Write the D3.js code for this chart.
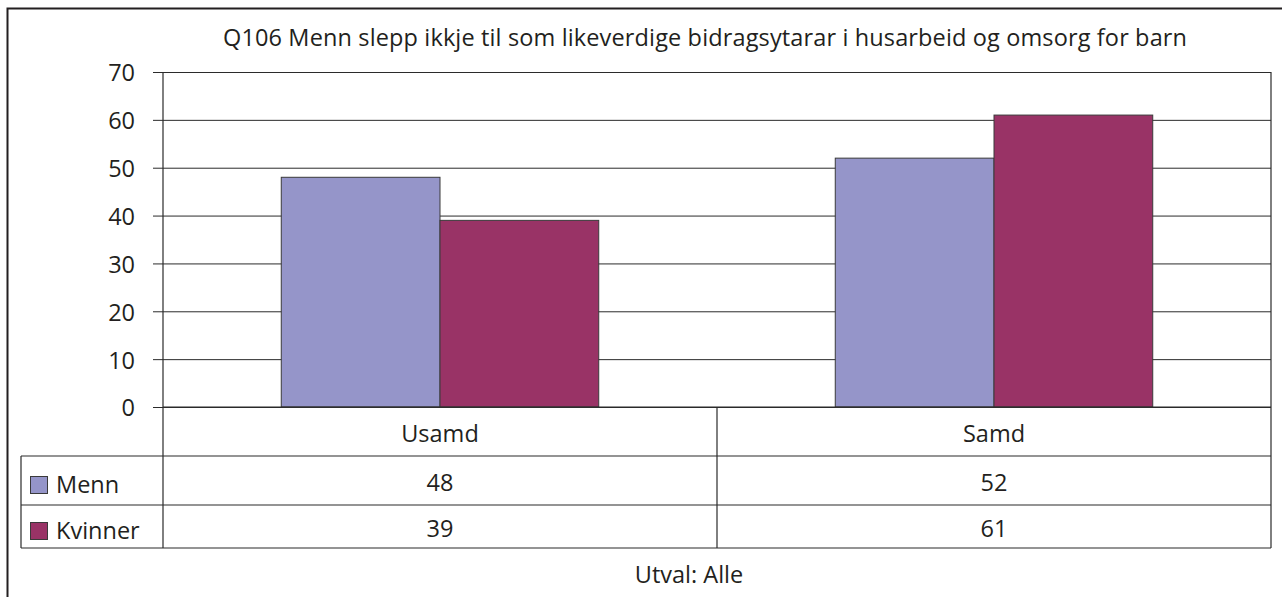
<!DOCTYPE html>
<html>
<head>
<meta charset="utf-8">
<script src="https://cdn.jsdelivr.net/npm/d3@7"></script>
<style>
  body { margin: 0; background: #fff; }
  text { font-family: "Open Sans", sans-serif; fill: #231f20; }
</style>
</head>
<body>
<div id="chart-area"></div>
<script>
// data
const categories = ["Usamd", "Samd"]
const series = ["Menn", "Kvinner"]
const menn = [48, 52]
const kvinner = [39, 61]
const yTicks = [0, 10, 20, 30, 40, 50, 60, 70]
const colors = ["#9595c9", "#993366"]

const WIDTH = 1282
const HEIGHT = 597
const PLOT = { LEFT: 163, RIGHT: 1271, TOP: 72, BOTTOM: 407 }
const TABLE_LEFT = 21
const ROW_H = [49, 49, 43]
const FONT = "23.5px"

const values = [menn, kvinner]

const svg = d3.select("#chart-area").append("svg")
  .attr("width", WIDTH)
  .attr("height", HEIGHT)

// outer frame (runs past the window on the right and bottom)
svg.append("rect")
  .attr("x", 7.5).attr("y", 8.5)
  .attr("width", WIDTH + 20).attr("height", HEIGHT + 20)
  .attr("fill", "none")
  .attr("stroke", "#231f20")
  .attr("stroke-width", 2)

// title
svg.append("text")
  .attr("x", 705)
  .attr("y", 46)
  .attr("text-anchor", "middle")
  .attr("font-size", FONT)
  .attr("textLength", 964)
  .attr("lengthAdjust", "spacing")
  .text("Q106 Menn slepp ikkje til som likeverdige bidragsytarar i husarbeid og omsorg for barn")

const x = d3.scaleBand()
  .domain(categories)
  .range([PLOT.LEFT, PLOT.RIGHT])
  .padding(0)

const xInner = d3.scaleBand()
  .domain(series)
  .range([0, x.bandwidth()])
  .paddingInner(0)
  .paddingOuter(0.745)

const y = d3.scaleLinear()
  .domain([0, 70])
  .range([PLOT.BOTTOM, PLOT.TOP])

// gridlines + y axis
const yAxis = d3.axisLeft(y)
  .tickValues(yTicks)
  .tickSize(PLOT.RIGHT - PLOT.LEFT + 10)
  .tickPadding(18)
  .tickFormat(d => d)

const yAxisGroup = svg.append("g")
  .attr("transform", `translate(${PLOT.RIGHT}, 0)`)
  .call(yAxis)
yAxisGroup.select(".domain").remove()
yAxisGroup.selectAll("line").attr("stroke", "#2b2b2b")
yAxisGroup.selectAll("text")
  .attr("font-size", FONT)
  .attr("font-family", "Open Sans, sans-serif")
  .attr("fill", "#231f20")
  .attr("dy", "0.38em")

// bars
const groups = svg.selectAll("g.cat")
  .data(categories)
  .enter().append("g")
  .attr("class", "cat")
  .attr("transform", d => `translate(${x(d)}, 0)`)

groups.selectAll("rect")
  .data((d, i) => series.map((s, j) => ({ s: s, v: values[j][i], c: colors[j] })))
  .enter().append("rect")
  .attr("x", d => xInner(d.s))
  .attr("y", d => y(d.v))
  .attr("width", xInner.bandwidth())
  .attr("height", d => y(0) - y(d.v))
  .attr("fill", d => d.c)
  .attr("stroke", "#3a3a3a")
  .attr("stroke-width", 1)

// data table
const rowY = [PLOT.BOTTOM]
ROW_H.forEach((h, i) => rowY.push(rowY[i] + h))
const line = (x1, y1, x2, y2) => svg.append("line")
  .attr("x1", x1).attr("y1", y1).attr("x2", x2).attr("y2", y2)
  .attr("stroke", "#2b2b2b").attr("stroke-width", 1.2)

line(PLOT.LEFT, PLOT.TOP, PLOT.LEFT, rowY[3])
line(PLOT.RIGHT, PLOT.TOP, PLOT.RIGHT, rowY[3])
line(PLOT.LEFT, PLOT.BOTTOM, PLOT.RIGHT, PLOT.BOTTOM)
line(TABLE_LEFT, rowY[1], PLOT.RIGHT, rowY[1])
line(TABLE_LEFT, rowY[2], PLOT.RIGHT, rowY[2])
line(TABLE_LEFT, rowY[3], PLOT.RIGHT, rowY[3])
line(TABLE_LEFT, rowY[1], TABLE_LEFT, rowY[3])
line(x(categories[1]), PLOT.BOTTOM, x(categories[1]), rowY[3])

// category labels
svg.selectAll("text.cat")
  .data(categories)
  .enter().append("text")
  .attr("class", "cat")
  .attr("x", d => x(d) + x.bandwidth() / 2)
  .attr("y", (rowY[0] + rowY[1]) / 2 + 10)
  .attr("text-anchor", "middle")
  .attr("font-size", FONT)
  .text(d => d)

// series rows
series.forEach((s, j) => {
  const cy = (rowY[j + 1] + rowY[j + 2]) / 2
  svg.append("rect")
    .attr("x", 30.5).attr("y", cy - 4)
    .attr("width", 17).attr("height", 17)
    .attr("fill", colors[j])
    .attr("stroke", "#3a3a3a")
  svg.append("text")
    .attr("x", 56)
    .attr("y", cy + 12)
    .attr("font-size", FONT)
    .text(s)
  categories.forEach((c, i) => {
    svg.append("text")
      .attr("x", x(c) + x.bandwidth() / 2)
      .attr("y", cy + 10)
      .attr("text-anchor", "middle")
      .attr("font-size", FONT)
      .text(values[j][i])
  })
})

// footnote
svg.append("text")
  .attr("x", 689)
  .attr("y", 583)
  .attr("text-anchor", "middle")
  .attr("font-size", FONT)
  .text("Utval: Alle")
</script>
</body>
</html>
